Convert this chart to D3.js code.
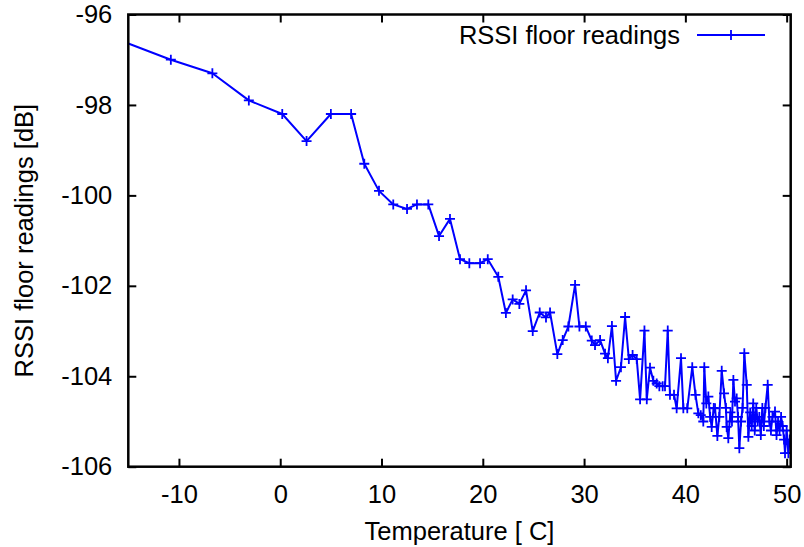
<!DOCTYPE html>
<html>
<head>
<meta charset="utf-8">
<script src="https://cdn.jsdelivr.net/npm/d3@7"></script>
<style>
  body { margin: 0; background: #fff; }
  text { font-family: "Liberation Sans", Arial, sans-serif; }
</style>
</head>
<body>
<div class="canva"></div>
<script>
// readings (temperature in C, rssi in dB)
var temps = [
  -17, -10.8, -6.7, -3.1, 0.2, 2.6, 5.0, 7.0, 8.3, 9.75,
  11.16, 12.52, 13.5, 14.62, 15.68, 16.76, 17.75, 18.67, 19.73, 20.49,
  21.53, 22.28, 22.95, 23.61, 24.27, 24.93, 25.62, 26.24, 26.64, 27.36,
  27.89, 28.45, 29.11, 29.54, 30.17, 30.76, 31.08, 31.58, 32.07, 32.35,
  32.75, 33.16, 33.64, 34.05, 34.42, 34.79, 35.2, 35.53, 35.96, 36.19,
  36.51, 36.84, 37.17, 37.43, 37.76, 37.99, 38.26, 38.48, 38.88, 39.14,
  39.57, 39.8, 40.19, 40.68, 41.0, 41.28, 41.52, 41.77, 41.87, 42.07,
  42.27, 42.45, 42.6, 42.8, 42.93, 43.16, 43.35, 43.59, 43.82, 44.0,
  44.08, 44.24, 44.45, 44.6, 44.74, 44.9, 45.07, 45.2, 45.33, 45.5,
  45.65, 45.82, 46.06, 46.22, 46.4, 46.55, 46.7, 46.85, 47.0, 47.15,
  47.3, 47.45, 47.6, 47.75, 47.9, 48.13, 48.3, 48.45, 48.6, 48.85,
  49.0, 49.15, 49.3, 49.45, 49.6, 49.75, 49.84, 50.0, 50.17, 50.3
];
var rssi = [
  -96.47, -97.0, -97.3, -97.9, -98.2, -98.8, -98.2, -98.2, -99.3, -99.9,
  -100.2, -100.3, -100.2, -100.2, -100.9, -100.52, -101.41, -101.5, -101.5, -101.41,
  -101.8, -102.6, -102.3, -102.4, -102.1, -103.0, -102.59, -102.7, -102.59, -103.51,
  -103.2, -102.9, -101.98, -102.9, -102.9, -103.21, -103.31, -103.2, -103.5, -103.6,
  -102.89, -104.1, -103.8, -102.69, -103.62, -103.53, -103.62, -104.51, -102.99, -104.51,
  -103.81, -104.1, -104.16, -104.22, -104.22, -104.22, -102.99, -104.41, -104.41, -104.71,
  -103.6, -104.71, -104.71, -103.8, -104.41, -104.82, -104.86, -105.0, -103.8, -104.6,
  -104.45, -104.9, -105.12, -104.7, -104.71, -105.32, -104.9, -103.88, -104.38, -104.7,
  -105.12, -105.37, -104.8, -105.0, -104.08, -104.56, -104.49, -104.9, -105.59, -105.0,
  -104.7, -103.49, -104.19, -105.34, -104.8, -105.1, -104.6, -105.2, -104.7, -105.0,
  -104.9, -105.3, -104.7, -105.1, -104.7, -104.19, -105.0, -105.2, -104.9, -104.78,
  -105.3, -105.0, -105.2, -104.9, -105.1, -105.4, -105.7, -105.2, -105.7, -105.4
];

var xTicks = [-10, 0, 10, 20, 30, 40, 50];
var yTicks = [-106, -104, -102, -100, -98, -96];

const width = 804, height = 547;
const margin = {top: 14.5, right: 13.3, bottom: 80.3, left: 128.3};
const graphWidth = width - margin.left - margin.right;
const graphHeight = height - margin.top - margin.bottom;
const fontSize = "25.5px";

const svg = d3.select(".canva").append("svg")
    .attr("width", width)
    .attr("height", height);

const mainCanvas = svg.append("g")
    .attr("transform", `translate(${margin.left}, ${margin.top})`);

var x = d3.scaleLinear()
    .domain([-15, 50.4])
    .range([0, graphWidth]);

var y = d3.scaleLinear()
    .domain([-106, -96])
    .range([graphHeight, 0]);

// clip so the first reading (left of -15) is cut at the frame
mainCanvas.append("clipPath")
    .attr("id", "plotclip")
  .append("rect")
    .attr("width", graphWidth)
    .attr("height", graphHeight);

var valueLine = d3.line()
    .x((d, i) => x(temps[i]))
    .y(d => y(d));

const plot = mainCanvas.append("g").attr("clip-path", "url(#plotclip)");

plot.append("path")
    .datum(rssi)
    .attr("fill", "none")
    .attr("stroke", "#0000ff")
    .attr("stroke-width", 2)
    .attr("stroke-linejoin", "round")
    .attr("d", valueLine);

// gnuplot style "+" points
var cross = "M-5,0H5M0,-5V5";
plot.selectAll(".pt")
    .data(rssi)
    .enter()
    .append("path")
    .attr("class", "pt")
    .attr("transform", (d, i) => `translate(${x(temps[i])},${y(d)})`)
    .attr("d", cross)
    .attr("stroke", "#0000ff")
    .attr("stroke-width", 1.8);

// plain hyphen minus like gnuplot, not the unicode one d3 uses
var plainFormat = d => String(d);

function styleAxis(g) {
    g.select(".domain").remove();
    g.selectAll(".tick line").attr("stroke", "#000").attr("stroke-width", 2);
    g.selectAll(".tick text")
        .attr("fill", "#000")
        .style("font-size", fontSize)
        .style("font-family", "'Liberation Sans', Arial, sans-serif");
}

// ticks point inwards on all four sides
mainCanvas.append("g")
    .attr("transform", `translate(0, ${graphHeight})`)
    .call(d3.axisBottom(x).tickValues(xTicks).tickFormat(plainFormat)
        .tickSizeInner(-8).tickSizeOuter(0).tickPadding(18))
    .call(styleAxis);

mainCanvas.append("g")
    .call(d3.axisTop(x).tickValues(xTicks).tickSizeInner(-8).tickSizeOuter(0).tickFormat(""))
    .call(styleAxis);

mainCanvas.append("g")
    .call(d3.axisLeft(y).tickValues(yTicks).tickFormat(plainFormat)
        .tickSizeInner(-8).tickSizeOuter(0).tickPadding(16))
    .call(styleAxis);

mainCanvas.append("g")
    .attr("transform", `translate(${graphWidth}, 0)`)
    .call(d3.axisRight(y).tickValues(yTicks).tickSizeInner(-8).tickSizeOuter(0).tickFormat(""))
    .call(styleAxis);

// frame
mainCanvas.append("rect")
    .attr("width", graphWidth)
    .attr("height", graphHeight)
    .attr("fill", "none")
    .attr("stroke", "#000")
    .attr("stroke-width", 2.5);

// axis titles
svg.append("text")
    .attr("x", margin.left + graphWidth / 2)
    .attr("y", 540)
    .attr("text-anchor", "middle")
    .style("font-size", fontSize)
    .text("Temperature [ C]");

svg.append("text")
    .attr("transform", `translate(33, ${margin.top + graphHeight / 2}) rotate(-90)`)
    .attr("text-anchor", "middle")
    .style("font-size", fontSize)
    .text("RSSI floor readings [dB]");

// legend
svg.append("text")
    .attr("x", 680)
    .attr("y", 44)
    .attr("text-anchor", "end")
    .style("font-size", fontSize)
    .text("RSSI floor readings");

svg.append("line")
    .attr("x1", 697).attr("x2", 765)
    .attr("y1", 35).attr("y2", 35)
    .attr("stroke", "#0000ff")
    .attr("stroke-width", 2);

svg.append("path")
    .attr("transform", "translate(731,35)")
    .attr("d", cross)
    .attr("stroke", "#0000ff")
    .attr("stroke-width", 1.8);
</script>
</body>
</html>
